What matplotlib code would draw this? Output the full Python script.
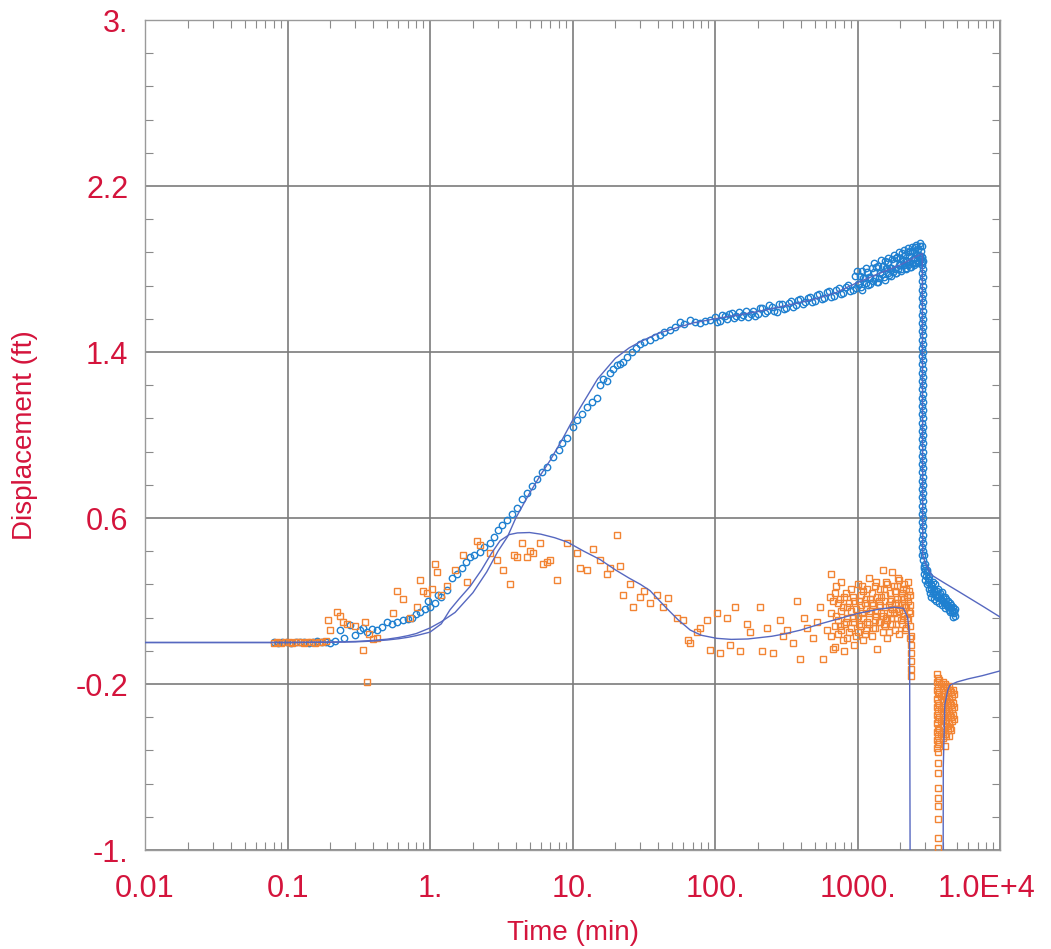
import numpy as np
import matplotlib
matplotlib.use("Agg")
import matplotlib.pyplot as plt
from matplotlib.ticker import FixedLocator, LogLocator, NullFormatter
from matplotlib.transforms import ScaledTranslation

plt.rcParams['font.family'] = ['Liberation Sans', 'DejaVu Sans']

# ---------------- axis setup ----------------
x_ticks = [0.01, 0.1, 1.0, 10.0, 100.0, 1000.0, 1.0e4]
x_tick_labels = ["0.01", "0.1", "1.", "10.", "100.", "1000.", "1.0E+4"]
y_ticks = [-1.0, -0.2, 0.6, 1.4, 2.2, 3.0]
y_tick_labels = ["-1.", "-0.2", "0.6", "1.4", "2.2", "3."]

# ---------------- displacement data (ft) ----------------
disp_early_t = [0.080, 0.086, 0.092, 0.099, 0.106, 0.114, 0.122, 0.131, 0.141, 0.151,
                0.162, 0.174, 0.187, 0.200, 0.215]
disp_early_v = [0.003, 0.0, 0.004, 0.002, 0.0, 0.003, 0.001, 0.004, 0.0, 0.002,
                0.005, 0.001, 0.003, 0.0, 0.008]

disp_rise_t = [0.233, 0.25, 0.274, 0.30, 0.323, 0.34, 0.361, 0.39, 0.425, 0.46,
               0.50, 0.54, 0.586, 0.646, 0.70, 0.747, 0.80, 0.851, 0.92, 0.97,
               1.0, 1.08, 1.14, 1.2, 1.316, 1.43, 1.55, 1.68, 1.8, 1.91,
               2.05, 2.24, 2.4, 2.64, 2.8, 3.0, 3.2, 3.47, 3.75, 4.08,
               4.4, 4.79, 5.2, 5.63, 6.1, 6.62, 7.3, 8.0, 8.5, 9.17,
               10.1, 10.8, 11.6, 12.6, 13.6, 14.8, 15.6, 16.5, 17.4, 18.3,
               19.2, 20.5, 21.6, 22.6, 24.2, 26.2, 28.0, 29.8, 32.0, 35.0,
               38.0, 41.0, 44.0, 48.3, 52.0, 56.8, 61.0, 66.8, 72.0, 78.5,
               85.0, 92.2]
disp_rise_v = [0.06, 0.02, 0.085, 0.035, 0.06, 0.07, 0.05, 0.065, 0.06, 0.075,
               0.10, 0.09, 0.10, 0.108, 0.115, 0.12, 0.135, 0.147, 0.16, 0.20,
               0.17, 0.19, 0.23, 0.22, 0.253, 0.31, 0.33, 0.36, 0.39, 0.41,
               0.42, 0.435, 0.46, 0.48, 0.51, 0.54, 0.565, 0.59, 0.62, 0.65,
               0.69, 0.72, 0.755, 0.79, 0.82, 0.846, 0.894, 0.93, 0.96, 0.985,
               1.04, 1.07, 1.10, 1.135, 1.16, 1.18, 1.24, 1.27, 1.26, 1.30,
               1.32, 1.335, 1.34, 1.35, 1.375, 1.40, 1.42, 1.44, 1.45, 1.46,
               1.47, 1.48, 1.495, 1.506, 1.52, 1.545, 1.535, 1.554, 1.545, 1.54,
               1.55, 1.554]

disp_late_a_t = [100, 108, 117, 126, 136, 147, 158, 171, 185, 200,
                 215, 232, 251, 271, 293, 316, 341, 368, 398, 429,
                 464, 501, 541, 584, 631, 681, 736, 794, 858, 926]
disp_late_a_v = [1.57, 1.55, 1.575, 1.585, 1.565, 1.595, 1.58, 1.57, 1.60, 1.585,
                 1.61, 1.60, 1.615, 1.595, 1.63, 1.61, 1.645, 1.625, 1.655, 1.64,
                 1.665, 1.645, 1.68, 1.66, 1.695, 1.67, 1.71, 1.685, 1.725, 1.70]

disp_late_b_t = [104, 112, 121, 131, 141, 152, 164, 178, 192, 207,
                 223, 241, 261, 282, 304, 328, 354, 383, 413, 446,
                 482, 521, 562, 607, 656, 708, 765, 826, 892]
disp_late_b_v = [1.545, 1.58, 1.56, 1.59, 1.575, 1.57, 1.60, 1.585, 1.575, 1.61,
                 1.59, 1.625, 1.60, 1.63, 1.605, 1.635, 1.615, 1.65, 1.63, 1.66,
                 1.64, 1.675, 1.655, 1.69, 1.665, 1.70, 1.68, 1.715, 1.695]

disp_band_a_t = [960, 1000, 1040, 1080, 1120, 1165, 1210, 1255, 1300, 1350,
                 1400, 1450, 1500, 1550, 1600, 1650, 1700, 1750, 1800, 1850,
                 1900, 1950, 2000, 2050, 2100, 2150, 2200, 2250, 2300, 2350,
                 2400, 2450, 2500, 2550, 2600, 2650, 2700, 2750, 2800, 2840]
disp_band_a_v = [1.764, 1.730, 1.765, 1.790, 1.755, 1.786, 1.761, 1.806, 1.785, 1.810,
                 1.815, 1.780, 1.815, 1.839, 1.803, 1.832, 1.806, 1.850, 1.829, 1.853,
                 1.856, 1.820, 1.853, 1.876, 1.840, 1.868, 1.841, 1.884, 1.862, 1.885,
                 1.888, 1.850, 1.883, 1.906, 1.868, 1.896, 1.869, 1.911, 1.889, 1.910]

disp_band_b_t = [980, 1020, 1060, 1100, 1142, 1188, 1232, 1278, 1325, 1375,
                 1425, 1475, 1525, 1575, 1625, 1675, 1725, 1775, 1825, 1875,
                 1925, 1975, 2025, 2075, 2125, 2175, 2225, 2275, 2325, 2375,
                 2425, 2475, 2525, 2575, 2625, 2675, 2725, 2775, 2820]
disp_band_b_v = [1.707, 1.728, 1.713, 1.758, 1.733, 1.723, 1.758, 1.743, 1.758, 1.738,
                 1.758, 1.777, 1.762, 1.806, 1.780, 1.769, 1.803, 1.787, 1.801, 1.780,
                 1.798, 1.817, 1.800, 1.843, 1.817, 1.805, 1.838, 1.821, 1.834, 1.812,
                 1.829, 1.847, 1.830, 1.872, 1.845, 1.833, 1.865, 1.848, 1.860]

disp_band_c_t = [990, 1070, 1150, 1230, 1310, 1390, 1470, 1550, 1630, 1710,
                 1790, 1870, 1950, 2030, 2110, 2190, 2270, 2350, 2430, 2510,
                 2590, 2670, 2750, 2830]
disp_band_c_v = [1.788, 1.699, 1.804, 1.728, 1.831, 1.739, 1.842, 1.749, 1.855, 1.767,
                 1.868, 1.779, 1.880, 1.790, 1.890, 1.800, 1.900, 1.810, 1.904, 1.819,
                 1.918, 1.827, 1.926, 1.835]

# pump shut-in: displacement collapses almost instantly
shutin_a_t = 2850.0
shutin_a_v = [1.86, 1.82, 1.78, 1.74, 1.70, 1.66, 1.62, 1.58, 1.54, 1.50,
              1.46, 1.42, 1.38, 1.34, 1.30, 1.26, 1.22, 1.18, 1.14, 1.10,
              1.06, 1.02, 0.98, 0.94, 0.90, 0.86, 0.82, 0.78, 0.74, 0.70,
              0.66, 0.62, 0.58, 0.54, 0.50, 0.46, 0.42]
shutin_b_t = 2870.0
shutin_b_v = [1.84, 1.80, 1.76, 1.72, 1.68, 1.64, 1.60, 1.56, 1.52, 1.48,
              1.44, 1.40, 1.36, 1.32, 1.28, 1.24, 1.20, 1.16, 1.12, 1.08,
              1.04, 1.00, 0.96, 0.92, 0.88, 0.84, 0.80, 0.76, 0.72, 0.68,
              0.64, 0.60, 0.56, 0.52, 0.48, 0.44]

disp_recov_a_t = [2900, 2920, 2950, 2980, 3000, 3050, 3080, 3100, 3150, 3180,
                  3220, 3260, 3300, 3340, 3380, 3420, 3470, 3520, 3570, 3620,
                  3680, 3740, 3800, 3860, 3920, 3990, 4060, 4130, 4200, 4280,
                  4360, 4440, 4520, 4600, 4680, 4700, 4760, 4820]
disp_recov_a_v = [0.40, 0.36, 0.33, 0.38, 0.30, 0.34, 0.28, 0.31, 0.26, 0.30,
                  0.24, 0.28, 0.22, 0.27, 0.24, 0.21, 0.26, 0.23, 0.20, 0.25,
                  0.22, 0.19, 0.24, 0.21, 0.18, 0.22, 0.19, 0.165, 0.21, 0.18,
                  0.155, 0.19, 0.165, 0.145, 0.17, 0.125, 0.15, 0.13]
disp_recov_b_t = [2910, 2940, 2970, 3020, 3070, 3120, 3200, 3280, 3360, 3440,
                  3500, 3600, 3660, 3720, 3830, 3900, 3960, 4100, 4160, 4240,
                  4320, 4400, 4480, 4560, 4640, 4740, 4800]
disp_recov_b_v = [0.42, 0.37, 0.35, 0.32, 0.35, 0.29, 0.32, 0.26, 0.29, 0.25,
                  0.28, 0.22, 0.26, 0.23, 0.21, 0.245, 0.20, 0.22, 0.185, 0.175,
                  0.20, 0.17, 0.145, 0.18, 0.155, 0.14, 0.16]

# ---------------- derivative data (ft) ----------------
deriv_early_t = [0.080, 0.085, 0.090, 0.096, 0.102, 0.108, 0.115, 0.122, 0.130, 0.138,
                 0.147, 0.156, 0.166, 0.176, 0.187]
deriv_early_v = [0.0, 0.002, 0.0, 0.003, 0.001, 0.0, 0.002, 0.004, 0.0, 0.002,
                 0.003, 0.0, 0.004, 0.002, 0.006]

deriv_mid_t = [0.192, 0.2, 0.222, 0.233, 0.245, 0.262, 0.30, 0.339, 0.352, 0.361,
               0.372, 0.40, 0.425, 0.55, 0.59, 0.65, 0.72, 0.81, 0.85, 0.89,
               0.95, 1.03, 1.08, 1.12, 1.2, 1.32, 1.5, 1.7, 1.82, 2.14,
               2.24, 2.64, 2.95, 3.25, 3.64, 3.9, 4.08, 4.42, 4.79, 5.03,
               5.28, 5.92, 6.2, 6.62, 6.96, 7.8, 9.17, 10.7, 11.3, 12.6,
               13.9, 15.6, 17.4, 18.3, 20.5, 21.6, 22.6, 25.3, 26.6, 29.8,
               32.0, 35.0, 39.0, 43.0, 47.0, 54.0, 60.0, 64.5, 67.0, 75.0,
               78.5, 88.0, 92.0, 103, 108, 121, 127, 138, 150, 168,
               175, 207, 215, 232, 255, 286, 300, 318, 352, 375,
               395, 420, 443, 490, 520, 546, 574, 611, 641]
deriv_mid_v = [0.11, 0.06, 0.147, 0.13, 0.10, 0.09, 0.08, -0.035, 0.10, -0.19,
               0.04, 0.017, 0.02, 0.14, 0.25, 0.21, 0.12, 0.17, 0.30, 0.25,
               0.24, 0.26, 0.38, 0.34, 0.23, 0.27, 0.35, 0.42, 0.29, 0.49,
               0.47, 0.43, 0.40, 0.35, 0.28, 0.42, 0.41, 0.48, 0.41, 0.44,
               0.43, 0.48, 0.38, 0.39, 0.40, 0.30, 0.48, 0.43, 0.36, 0.35,
               0.45, 0.40, 0.33, 0.36, 0.52, 0.37, 0.23, 0.28, 0.17, 0.22,
               0.25, 0.19, 0.23, 0.17, 0.215, 0.12, 0.11, 0.01, 0.0, 0.05,
               0.07, 0.11, -0.035, 0.14, -0.05, 0.12, -0.01, 0.17, -0.04, 0.09,
               0.05, 0.17, -0.04, 0.07, -0.05, 0.11, 0.03, 0.06, 0.0, 0.20,
               -0.08, 0.12, 0.07, 0.02, 0.10, 0.17, -0.08, 0.06, 0.22]

deriv_dense_a_t = [650, 650, 650, 690, 690, 690, 730, 730, 730, 770, 770, 770,
                   810, 810, 810, 850, 850, 850, 900, 900, 900, 950, 950, 950,
                   1000, 1000, 1000, 1050, 1050, 1050, 1100, 1100, 1100,
                   1150, 1150, 1150, 1200, 1200, 1200, 1260, 1260, 1260,
                   1320, 1320, 1320, 1380, 1380, 1380, 1440, 1440, 1440,
                   1500, 1500, 1500, 1560, 1560, 1560, 1620, 1620, 1620,
                   1690, 1690, 1690, 1760, 1760, 1760, 1830, 1830, 1830,
                   1900, 1900, 1900, 1970, 1970, 1970, 2040, 2040, 2040,
                   2110, 2110, 2110, 2180, 2180, 2180, 2250, 2250, 2250,
                   2320, 2320, 2320]
deriv_dense_a_v = [0.33, 0.14, 0.03, 0.24, 0.08, -0.02, 0.19, 0.11, 0.04, 0.29, 0.15, 0.06,
                   0.22, 0.09, -0.04, 0.17, 0.12, 0.02, 0.26, 0.07, 0.15, 0.20, 0.10, -0.01,
                   0.28, 0.13, 0.05, 0.18, 0.23, 0.08, 0.25, 0.12, 0.01,
                   0.21, 0.16, 0.06, 0.31, 0.09, 0.14, 0.19, 0.24, 0.03,
                   0.27, 0.11, 0.07, 0.22, 0.15, -0.03, 0.18, 0.26, 0.10,
                   0.35, 0.13, 0.05, 0.23, 0.17, 0.08, 0.28, 0.11, 0.02,
                   0.20, 0.14, 0.24, 0.34, 0.09, 0.16, 0.25, 0.19, 0.06,
                   0.21, 0.12, 0.27, 0.30, 0.15, 0.04, 0.24, 0.18, 0.09,
                   0.28, 0.13, 0.21, 0.26, 0.17, 0.07, 0.29, 0.11, 0.20,
                   0.23, 0.14, 0.02]

deriv_dense_b_t = [670, 670, 710, 710, 750, 750, 790, 790, 830, 830,
                   875, 875, 925, 925, 975, 975, 1025, 1025, 1075, 1075,
                   1125, 1125, 1175, 1175, 1230, 1230, 1290, 1290, 1350, 1350,
                   1410, 1410, 1470, 1470, 1530, 1530, 1590, 1590, 1655, 1655,
                   1725, 1725, 1795, 1795, 1865, 1865, 1935, 1935, 2005, 2005,
                   2075, 2075, 2145, 2145, 2215, 2215, 2285, 2285, 2340, 2340]
deriv_dense_b_v = [0.20, -0.03, 0.13, 0.27, 0.08, 0.21, 0.17, 0.01, 0.24, 0.10,
                   0.05, 0.19, 0.22, 0.12, 0.16, 0.03, 0.20, 0.09, 0.14, 0.27,
                   0.19, 0.04, 0.26, 0.10, 0.15, 0.21, 0.07, 0.18, 0.29, 0.13,
                   0.10, 0.20, 0.14, 0.22, 0.26, 0.09, 0.12, 0.29, 0.18, 0.05,
                   0.21, 0.12, 0.27, 0.14, 0.16, 0.09, 0.19, 0.31, 0.11, 0.22,
                   0.26, 0.14, 0.17, 0.06, 0.22, 0.12, 0.15, 0.25, 0.18, 0.08]

deriv_shutin_t = 2380.0
deriv_shutin_v = [0.03, -0.01, -0.05, -0.09, -0.13, -0.16]

deriv_recov_t = [3600] * 10 + [3700] * 10 + [3750] * 6 + [3850] * 5 + [3950] * 5 \
    + [4000] * 5 + [4080] * 6 + [4150] * 5 + [4230] * 4 + [4300] * 4 + [4380] * 5 \
    + [4450] * 4 + [4520] * 4 + [4600] * 3 + [4680] * 3 + [4750] * 3 + [3650] * 8
deriv_recov_v = [-0.15, -0.19, -0.23, -0.27, -0.31, -0.35, -0.39, -0.43, -0.47, -0.51,
                 -0.17, -0.21, -0.25, -0.29, -0.33, -0.37, -0.41, -0.45, -0.49, -0.53,
                 -0.18, -0.24, -0.30, -0.36, -0.42, -0.48,
                 -0.20, -0.26, -0.32, -0.38, -0.44,
                 -0.19, -0.25, -0.31, -0.37, -0.43,
                 -0.22, -0.28, -0.34, -0.40, -0.46,
                 -0.20, -0.26, -0.32, -0.38, -0.44, -0.50,
                 -0.21, -0.27, -0.33, -0.39, -0.45,
                 -0.22, -0.28, -0.34, -0.40,
                 -0.24, -0.30, -0.36, -0.42,
                 -0.21, -0.27, -0.33, -0.39, -0.45,
                 -0.23, -0.29, -0.35, -0.41,
                 -0.24, -0.30, -0.36, -0.42,
                 -0.26, -0.32, -0.38,
                 -0.23, -0.29, -0.35,
                 -0.25, -0.31, -0.37,
                 -0.58, -0.63, -0.70, -0.75, -0.79, -0.85, -0.94, -0.99]

# ---------------- type-curve matches ----------------
disp_fit_t = [0.01, 0.05, 0.1, 0.2, 0.3, 0.4, 0.5, 0.6, 0.7, 0.8,
              1.0, 1.2, 1.5, 2.0, 2.5, 3.0, 3.5, 4.0, 5.0, 6.0,
              7.0, 8.5, 10, 12, 15, 20, 25, 30, 40, 50,
              70, 100, 150, 200, 300, 500, 700, 1000, 1500, 2000,
              2500, 2850, 2870, 3000, 3310, 4000, 5200, 7600, 10000]
disp_fit_v = [0.0, 0.0, 0.0, 0.002, 0.005, 0.01, 0.016, 0.024, 0.033, 0.043,
              0.07, 0.10, 0.145, 0.24, 0.34, 0.44, 0.51, 0.60, 0.72, 0.81,
              0.88, 0.98, 1.07, 1.16, 1.27, 1.37, 1.42, 1.45, 1.49, 1.51,
              1.54, 1.56, 1.58, 1.595, 1.62, 1.655, 1.685, 1.735, 1.785, 1.82,
              1.855, 1.875, 0.42, 0.38, 0.325, 0.29, 0.243, 0.174, 0.123]

deriv_fit_t = [0.01, 0.1, 0.2, 0.3, 0.4, 0.5, 0.6, 0.7, 0.8, 1.0,
               1.2, 1.38, 1.6, 1.91, 2.3, 2.7, 3.1, 3.6, 4.1, 5.0,
               6.0, 7.5, 9.2, 12, 15.6, 20, 25, 30, 35, 45,
               55, 67, 80, 103, 130, 170, 250, 300, 400, 550,
               700, 1000, 1400, 1800, 2100, 2250, 2320, 2350, np.nan,
               3980, 4000, 4100, 4300, 4460, 5000, 6000, 7500, 10000]
deriv_fit_v = [0.0, 0.0, 0.001, 0.003, 0.007, 0.012, 0.018, 0.025, 0.033, 0.05,
               0.09, 0.157, 0.21, 0.27, 0.35, 0.43, 0.49, 0.52, 0.528, 0.53,
               0.522, 0.505, 0.484, 0.44, 0.40, 0.35, 0.31, 0.28, 0.25, 0.17,
               0.11, 0.06, 0.035, 0.02, 0.015, 0.017, 0.03, 0.04, 0.06, 0.09,
               0.11, 0.14, 0.16, 0.17, 0.165, 0.12, 0.03, -1.6, np.nan,
               -1.6, -0.6, -0.3, -0.23, -0.205, -0.19, -0.175, -0.16, -0.137]

# ---------------- drawing ----------------
RED = '#d4143c'
GRAY = '#8a8a8a'
BLUE_PTS = '#1f80d0'
ORANGE_PTS = '#f28433'
FIT = '#5668c0'

fig = plt.figure(figsize=(10.51, 9.49), dpi=100)
ax = fig.add_axes([145 / 1051, 1 - 850 / 949, 855 / 1051, 830 / 949])

disp_t = (disp_early_t + disp_rise_t + disp_late_a_t + disp_late_b_t
          + disp_band_a_t + disp_band_b_t + disp_band_c_t
          + [shutin_a_t] * len(shutin_a_v) + [shutin_b_t] * len(shutin_b_v)
          + disp_recov_a_t + disp_recov_b_t)
disp_v = (disp_early_v + disp_rise_v + disp_late_a_v + disp_late_b_v
          + disp_band_a_v + disp_band_b_v + disp_band_c_v
          + shutin_a_v + shutin_b_v + disp_recov_a_v + disp_recov_b_v)

deriv_t = (deriv_early_t + deriv_mid_t + deriv_dense_a_t + deriv_dense_b_t
           + [deriv_shutin_t] * len(deriv_shutin_v) + deriv_recov_t)
deriv_v = (deriv_early_v + deriv_mid_v + deriv_dense_a_v + deriv_dense_b_v
           + deriv_shutin_v + deriv_recov_v)

ax.plot(disp_t, disp_v, linestyle='none', marker='o', markersize=4.6,
        markerfacecolor='none', markeredgecolor=BLUE_PTS, markeredgewidth=1.0, zorder=3)
ax.plot(deriv_t, deriv_v, linestyle='none', marker='s', markersize=4.4,
        markerfacecolor='none', markeredgecolor=ORANGE_PTS, markeredgewidth=1.0, zorder=4)
ax.plot(disp_fit_t, disp_fit_v, color=FIT, lw=1.0, zorder=5)
ax.plot(deriv_fit_t, deriv_fit_v, color=FIT, lw=1.0, zorder=5)

ax.set_xscale('log')
ax.set_xlim(0.01, 1.0e4)
ax.set_ylim(-1.0, 3.0)

ax.xaxis.set_major_locator(FixedLocator(x_ticks))
ax.set_xticklabels(x_tick_labels)
ax.xaxis.set_minor_locator(LogLocator(base=10, subs=np.arange(2, 10), numticks=20))
ax.xaxis.set_minor_formatter(NullFormatter())
ax.yaxis.set_major_locator(FixedLocator(y_ticks))
ax.set_yticklabels(y_tick_labels)
ax.yaxis.set_minor_locator(FixedLocator(np.arange(-1.0, 3.001, 0.16)))

ax.tick_params(which='major', length=0, labelsize=22, labelcolor=RED)
ax.tick_params(axis='x', which='major', pad=17)
ax.tick_params(axis='y', which='major', pad=12)
ax.tick_params(which='minor', direction='in', length=6, width=0.8, color=GRAY,
               top=True, right=True, bottom=True, left=True)

ax.grid(which='major', color='#7c7c7c', lw=1.2)
for sp in ax.spines.values():
    sp.set_color('#9a9a9a')
    sp.set_linewidth(1.0)

# keep the last x label inside the figure
last = ax.get_xticklabels()[-1]
last.set_transform(last.get_transform() + ScaledTranslation(-0.14, 0, fig.dpi_scale_trans))

fig.text(573 / 1051, 1 - 933 / 949, 'Time (min)', ha='center', va='center',
         fontsize=20, color=RED)
fig.text(25 / 1051, 1 - 435 / 949, 'Displacement (ft)', ha='center', va='center',
         fontsize=20, color=RED, rotation=90)

fig.savefig('out.png', dpi=100)
